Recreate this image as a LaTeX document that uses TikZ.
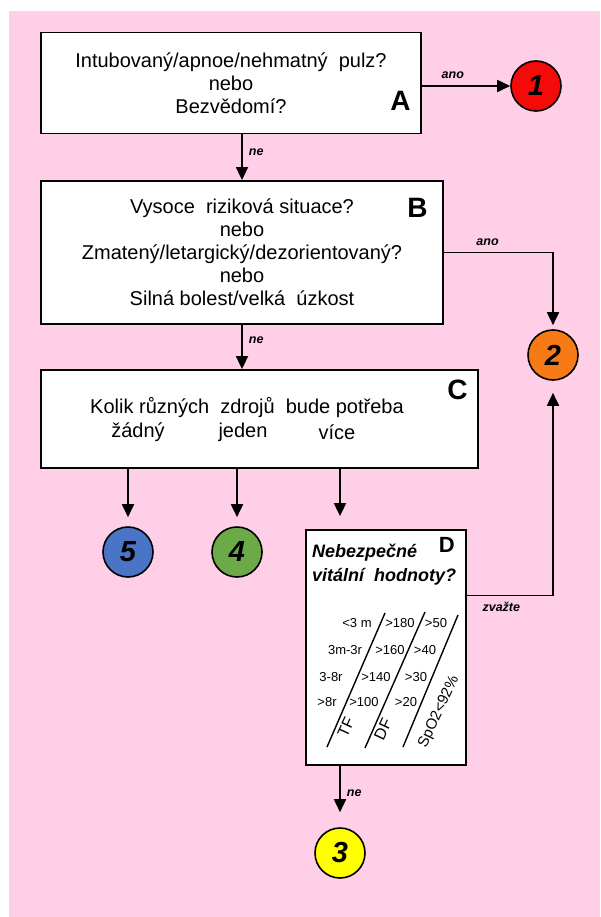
\documentclass[tikz,border=0pt]{standalone}
\usepackage{fontspec}
\setmainfont{Liberation Sans}
\usepackage{tikz}
\usetikzlibrary{positioning, arrows.meta, calc}

\definecolor{bgpink}{HTML}{FFCFE8}
\definecolor{red1}{HTML}{F50A0A}
\definecolor{orange2}{HTML}{F87A16}
\definecolor{yellow3}{HTML}{FFFF00}
\definecolor{green4}{HTML}{6CAA48}
\definecolor{blue5}{HTML}{4A74C6}

\begin{document}
\begin{tikzpicture}[
    x=1pt, y=-1pt,
    box/.style={draw, line width=1.8pt, fill=white, align=center, inner sep=0pt,
                font=\fontsize{20}{23}\selectfont},
    lettr/.style={font=\fontsize{28}{28}\selectfont\bfseries, anchor=base east, inner sep=0pt},
    num/.style={circle, draw, line width=1.6pt, minimum size=50pt, inner sep=0pt,
                font=\fontsize{29}{29}\selectfont\bfseries\itshape},
    arr/.style={line width=1.8pt, -{Triangle[length=13pt, width=12pt]}},
    yn/.style={font=\fontsize{12.5}{13}\selectfont\bfseries\itshape, inner sep=6pt},
    ctext/.style={font=\fontsize{20}{23}\selectfont, inner sep=0pt},
    dtext/.style={font=\fontsize{18}{22}\selectfont\bfseries\itshape, inner sep=0pt, anchor=west},
    cell/.style={font=\fontsize{13}{13}\selectfont, inner sep=0pt},
    axis/.style={font=\fontsize{16}{16}\selectfont, inner sep=0pt, rotate=65},
]
\useasboundingbox (0,0) rectangle (600,917);
\fill[white] (0,0) rectangle (600,917);
\fill[bgpink] (9,11) rectangle (600,917);

% --- question boxes ---
\node[box, minimum width=380pt, minimum height=101pt] (boxA) at (231,83)
    {Intubovaný/apnoe/nehmatný\ \ pulz?\\nebo\\Bezvědomí?};
\node[box, minimum width=402pt, minimum height=143pt] (boxB) at (242,252.5)
    {Vysoce\ \ riziková situace?\\nebo\\Zmatený/letargický/dezorientovaný?\\nebo\\Silná bolest/velká\ \ úzkost};
\node[box, minimum width=437pt, minimum height=98pt] (boxC) at (259.5,419) {};
\node[box, minimum width=160pt, minimum height=235pt] (boxD) at (386,647.5) {};

\node[lettr] (lA) at ($(boxA.south east)+(-11,-24)$) {A};
\node[lettr] (lB) at ($(boxB.north east)+(-16,37)$) {B};
\node[lettr] (lC) at ($(boxC.north east)+(-11,30)$) {C};
\node[lettr, font=\fontsize{22}{22}\selectfont\bfseries] (lD) at ($(boxD.north east)+(-12,23)$) {D};

% C: question and answers
\node[ctext] (qC) at (247,408) {Kolik různých\ \ zdrojů\ \ bude potřeba};
\node[ctext] (none) at (138,432) {žádný};
\node[ctext] (one) at (243,432) {jeden};
\node[ctext] (more) at (337,432) {více};

% D: vital signs
\node[dtext] (dq1) at (312,553) {Nebezpečné};
\node[dtext] (dq2) at (312,577) {vitální\ \ hodnoty?};

\draw[line width=1.4pt] (327,747) -- (385,613);
\draw[line width=1.4pt] (365,748) -- (425,612);
\draw[line width=1.4pt] (403,747) -- (458,615);

\foreach \x/\y/\t [count=\i] in {357/623/{<3 m}, 400/623/{>180}, 436/623/{>50},
                                 345/650/{3m-3r}, 390/650/{>160}, 425/650/{>40},
                                 331/677/{3-8r}, 376/677/{>140}, 416/677/{>30},
                                 327/702/{>8r}, 364/702/{>100}, 406/702/{>20}}
    \node[cell] (v\i) at (\x,\y) {\t};

\node[axis] (tf) at (346,727) {TF};
\node[axis] (df) at (383,729) {DF};
\node[axis, font=\fontsize{15}{15}\selectfont] (spo) at (439,712) {SpO2<92\%};

% --- outcomes ---
\node[num, fill=red1] (c1) at (536,86) {1};
\node[num, fill=orange2] (c2) at (553,355) {2};
\node[num, fill=yellow3] (c3) at (340,853) {3};
\node[num, fill=green4] (c4) at (237,552) {4};
\node[num, fill=blue5] (c5) at (128,552) {5};

% --- connectors ---
\draw[arr] (boxA.east |- c1) -- node[yn, above, pos=.35] (anoA) {ano} (c1);
\draw[arr] (boxA.south -| boxB) -- node[yn, right, pos=.4] (neA) {ne} (boxB.north);
\draw[arr, shorten >=4pt] (boxB.east) -| node[yn, above, pos=.2] (anoB) {ano} (c2.north);
\draw[arr] (boxB.south) -- node[yn, right, pos=.35] (neB) {ne} (boxB.south |- boxC.north);
\draw[arr, shorten >=9pt] (boxC.south -| c5) -- (c5.north);
\draw[arr, shorten >=9pt] (boxC.south -| c4) -- (c4.north);
\draw[arr, shorten >=13pt] (boxC.south -| c3) -- (boxD.north -| c3);
\draw[arr, shorten >=12pt] ($(boxD.north east)!0.28!(boxD.south east)$) -| node[yn, below, pos=.2] (zv) {zvažte} (c2.south);
\draw[arr, shorten >=15pt] (boxD.south -| c3) -- node[yn, right, pos=.45] (neD) {ne} (c3.north);

\end{tikzpicture}
\end{document}
